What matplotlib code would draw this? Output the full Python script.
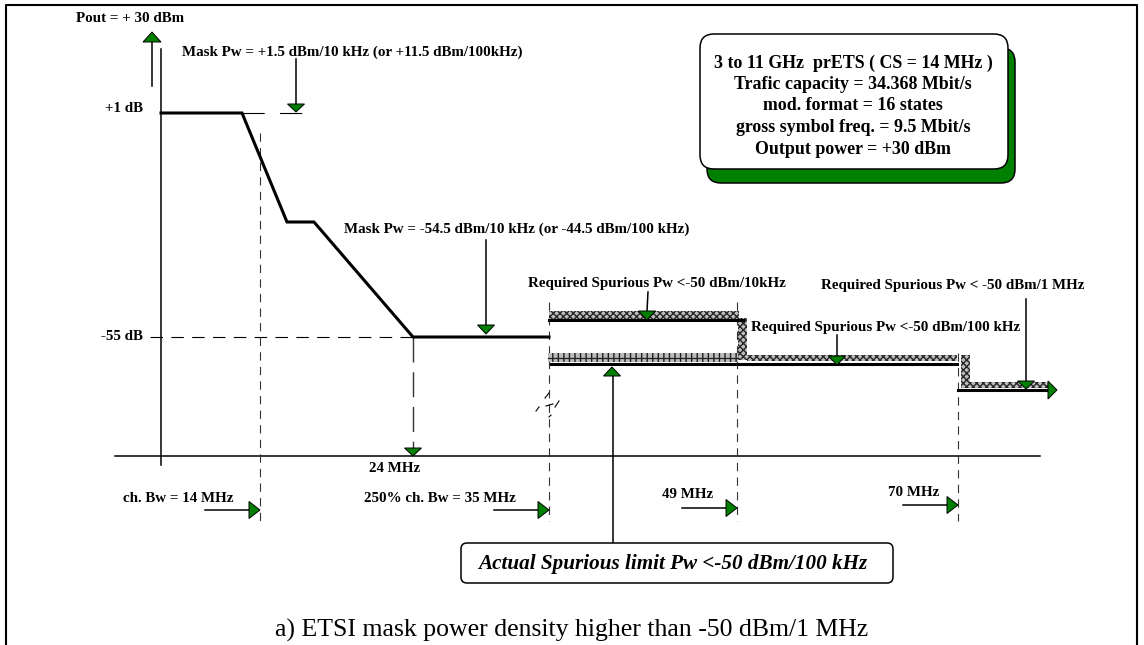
import matplotlib
matplotlib.use("Agg")
import matplotlib.pyplot as plt
from matplotlib.patches import Rectangle, FancyBboxPatch, Polygon

plt.rcParams['font.family'] = ['Liberation Serif', 'DejaVu Serif']
plt.rcParams['lines.scale_dashes'] = False
plt.rcParams['hatch.linewidth'] = 1.0

GREEN = '#008000'
W, H = 1144, 645

# schematic spectrum mask (sketch units, not to scale)
mask_x = [161, 242, 287, 314, 413, 549]
mask_y = [113, 113, 222, 222, 337, 337]

level_labels = ['+1 dB', '-55 dB']
level_y = [108, 337]

freq_labels = ['ch. Bw = 14 MHz', '250% ch. Bw = 35 MHz', '49 MHz', '70 MHz']
freq_x = [260, 549, 737, 958]
freq_top = [133, 302, 302, 353]
freq_cx = [178, 440, 688, 914]
freq_label_y = [498, 498, 495, 492]
freq_arrow_y = [510, 510, 508, 505]

mask_notes = ['Mask Pw = +1.5 dBm/10 kHz (or +11.5 dBm/100kHz)',
              'Mask Pw = -54.5 dBm/10 kHz (or -44.5 dBm/100 kHz)']
spur_notes = ['Required Spurious Pw <-50 dBm/10kHz',
              'Required Spurious Pw <-50 dBm/100 kHz',
              'Required Spurious Pw < -50 dBm/1 MHz']

info_lines = ['3 to 11 GHz  prETS ( CS = 14 MHz )',
              'Trafic capacity = 34.368 Mbit/s',
              'mod. format = 16 states',
              'gross symbol freq. = 9.5 Mbit/s',
              'Output power = +30 dBm']

fig = plt.figure(figsize=(W / 100, H / 100), dpi=100)
ax = fig.add_axes([0, 0, 1, 1])
ax.set_xlim(0, W)
ax.set_ylim(H, 0)
ax.axis('off')


def tri(x, y, d, w=17, h=9):
    # green arrow head, tip at (x, y)
    if d == 'down':
        pts = [(x - w / 2, y - h), (x + w / 2, y - h), (x, y)]
    elif d == 'up':
        pts = [(x - w / 2, y + h), (x + w / 2, y + h), (x, y)]
    else:
        pts = [(x - h, y - w / 2), (x - h, y + w / 2), (x, y)]
    ax.add_patch(Polygon(pts, closed=True, fc=GREEN, ec='black', lw=0.7, zorder=6))


def label(x, y, s, size=10.8, ha='left', **kw):
    ax.text(x, y, s, fontsize=size, fontweight='bold', ha=ha, va='center', **kw)


# frame
ax.plot([6, 6, 1137, 1137], [H, 5, 5, H], color='black', lw=1.5)

# axes of the sketch
ax.plot([161, 161], [49, 465], color='black', lw=1.1)
ax.plot([115, 1040], [456, 456], color='black', lw=1.1)

# Pout arrow
ax.plot([152, 152], [86, 42], color='black', lw=1.1)
tri(152, 32, 'up', w=18, h=10)
label(130, 18, 'Pout = + 30 dBm', ha='center')

# mask
ax.plot(mask_x, mask_y, color='black', lw=2.2, solid_joinstyle='miter', zorder=4)
ax.plot([242, 313], [113, 113], color='black', lw=0.8, linestyle=(0, (16, 11)))
for s, yy in zip(level_labels, level_y):
    label(143, yy, s, ha='right')
ax.plot([150, 413], [337, 337], color='black', lw=0.8, linestyle=(0, (9, 6)))

# mask notes
label(182, 52, mask_notes[0])
ax.plot([296, 296], [59, 104], color='black', lw=1.1)
tri(296, 112, 'down', h=8)
label(344, 229, mask_notes[1])
ax.plot([486, 486], [240, 325], color='black', lw=1.1)
tri(486, 334, 'down')

# 24 MHz marker
ax.plot([413, 413], [337, 448], color='#333333', lw=1.0, linestyle=(0, (18, 7)))
tri(413, 456, 'down', h=8)
label(395, 469, '24 MHz', ha='center')

# frequency markers
for fx, top, ay in zip(freq_x, freq_top, freq_arrow_y):
    ax.plot([fx, fx], [top, 521], color='#333333', lw=0.8, linestyle=(0, (6, 4.5)))
    ax.plot([fx - 55, fx - 11], [ay, ay], color='black', lw=1.1)
    tri(fx, ay, 'right', h=11)
for s, cx, ly in zip(freq_labels, freq_cx, freq_label_y):
    label(cx, ly, s, ha='center')

# spurious limits (hatched bands)
hatch_kw = dict(fc='#bdbdbd', ec='#262626', lw=0, hatch='xxxxx', zorder=3)
for (x0, y0, bw, bh) in [(549, 311, 190, 8), (738, 318, 9, 42), (747, 355, 210, 6),
                         (961, 355, 9, 32), (961, 382, 87, 6)]:
    ax.add_patch(Rectangle((x0, y0), bw, bh, **hatch_kw))
ax.add_patch(Rectangle((548, 353), 190, 9, fc='#bcbcbc', ec='#1e1e1e', lw=0,
                       hatch='|||', zorder=3))
ax.plot([548, 738], [358, 358], color='#222222', lw=0.9, zorder=3)
ax.plot([549, 743], [320, 320], color='black', lw=2.2, zorder=4)
ax.plot([551, 957], [364, 364], color='black', lw=2.2, zorder=4)
ax.plot([958, 1048], [390, 390], color='black', lw=2.2, zorder=4)
tri(1057, 390, 'right', w=18, h=9)

# break mark
for (xa, ya, xb, yb) in [(545, 398, 549, 393), (546, 406, 553, 404), (555, 407, 559, 401),
                         (536, 411, 539, 407), (549, 417, 551, 415)]:
    ax.plot([xa, xb], [ya, yb], color='black', lw=0.8)

# spurious notes
label(528, 284, spur_notes[0])
ax.plot([648, 647], [292, 311], color='black', lw=1.1)
tri(647, 320, 'down')
label(751, 328, spur_notes[1])
ax.plot([837, 837], [335, 357], color='black', lw=1.1)
tri(837, 365, 'down')
label(821, 286, spur_notes[2])
ax.plot([1026, 1026], [299, 382], color='black', lw=1.1)
tri(1026, 389, 'down', h=8)

# actual spurious limit box
ax.plot([613, 613], [543, 375], color='black', lw=1.1)
tri(612, 367, 'up', h=9)
ax.add_patch(FancyBboxPatch((461, 543), 432, 40, boxstyle='round,pad=0,rounding_size=6',
                            fc='white', ec='black', lw=1.1, zorder=5))
ax.text(673, 564, 'Actual Spurious limit Pw <-50 dBm/100 kHz', fontsize=15.2,
        fontweight='bold', fontstyle='italic', ha='center', va='center', zorder=6)

# info box with green shadow
ax.add_patch(FancyBboxPatch((707, 48), 308, 135, boxstyle='round,pad=0,rounding_size=14',
                            fc=GREEN, ec='black', lw=1.1, zorder=5))
ax.add_patch(FancyBboxPatch((700, 34), 308, 135, boxstyle='round,pad=0,rounding_size=14',
                            fc='white', ec='black', lw=1.1, zorder=6))
for i, s in enumerate(info_lines):
    ax.text(853, 63 + i * 21.5, s, fontsize=12.9, fontweight='bold', ha='center',
            va='center', zorder=7)

# caption
ax.text(572, 630, 'a) ETSI mask power density higher than -50 dBm/1 MHz', fontsize=18.5,
        ha='center', va='center')

fig.savefig('out.png', dpi=100)
